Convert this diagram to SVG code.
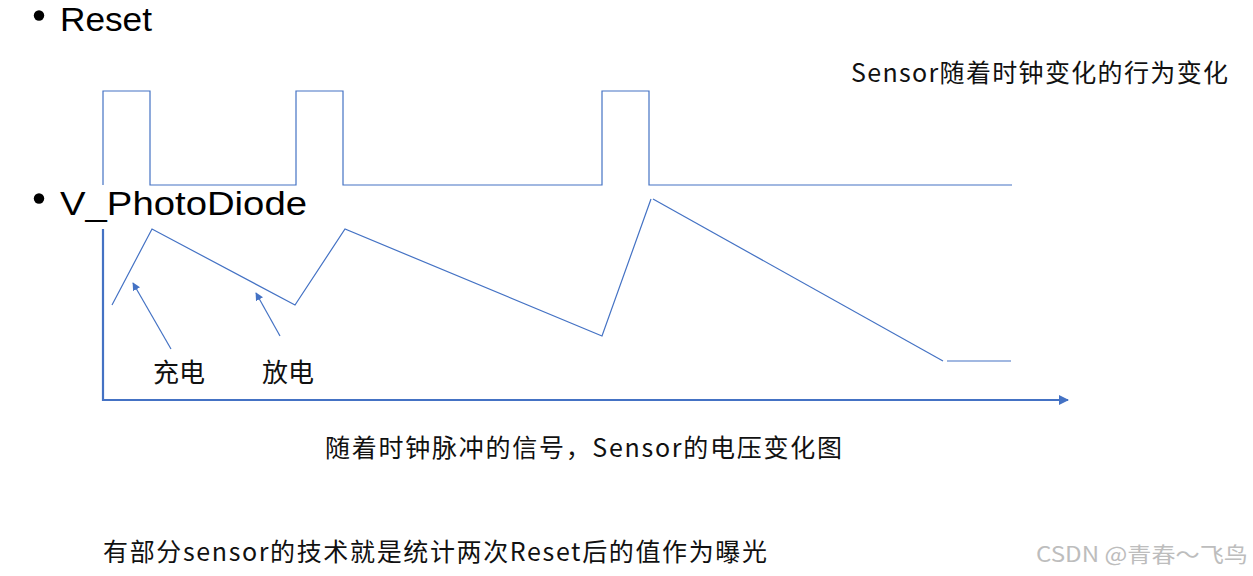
<svg xmlns="http://www.w3.org/2000/svg" width="1253" height="576" viewBox="0 0 1253 576">
<defs>
<style>
.wave{fill:none;stroke:#4472C4;stroke-width:1.2;stroke-linejoin:miter}
.axis{fill:none;stroke:#4472C4;stroke-width:2.2}
.ptr{fill:none;stroke:#4472C4;stroke-width:1.2}
.big{font-family:"Liberation Sans",Arial,sans-serif;font-size:34px;fill:#000}
.dot{fill:#000}
.cn{font-family:"Noto Sans CJK SC","Noto Sans",sans-serif;fill:#111}
.wm{font-family:"Noto Sans CJK SC","Noto Sans",sans-serif;font-size:21px;fill:#bdbdbd}
</style>
<marker id="tri" viewBox="0 0 10 10" refX="9" refY="5" markerWidth="8" markerHeight="8" markerUnits="userSpaceOnUse" orient="auto">
<path d="M0,0 L10,5 L0,10 z" fill="#4472C4"/>
</marker>
<marker id="axtri" viewBox="0 0 10 10" refX="9" refY="5" markerWidth="10" markerHeight="10" markerUnits="userSpaceOnUse" orient="auto">
<path d="M0,0 L10,5 L0,10 z" fill="#4472C4"/>
</marker>
</defs>
<rect width="1253" height="576" fill="#fff"/>
<g id="title-reset">
<circle class="dot" cx="39" cy="15.5" r="5.2"/>
<text class="big" x="60" y="31" textLength="92" lengthAdjust="spacingAndGlyphs">Reset</text>
</g>
<g id="title-vpd">
<circle class="dot" cx="39" cy="198.5" r="5.2"/>
<text class="big" x="60" y="215" textLength="247" lengthAdjust="spacingAndGlyphs">V_PhotoDiode</text>
</g>
<g id="caption-top">
<text class="cn" x="851" y="82" font-size="25" textLength="377">Sensor随着时钟变化的行为变化</text>
</g>
<g id="reset-wave">
<path class="wave" d="M103,185 V91 H150 V185 H296 V91 H343 V185 H602 V91 H649 V185 H1012"/>
</g>
<g id="pd-wave">
<path class="wave" d="M112,305 L152,229 L295,305 L345,229 L602,336 L651,199"/>
<path class="wave" d="M653,199 L943,361"/>
<path class="wave" d="M947,361 H1011"/>
</g>
<g id="connectors">
<path class="axis" d="M103,229 V400 H1068" marker-end="url(#axtri)"/>
<path class="ptr" d="M171,349 L133,283" marker-end="url(#tri)"/>
<path class="ptr" d="M280,336 L256,293" marker-end="url(#tri)"/>
</g>
<g id="label-charge">
<text class="cn" x="153" y="382" font-size="26">充电</text>
</g>
<g id="label-discharge">
<text class="cn" x="262" y="382" font-size="26">放电</text>
</g>
<g id="caption-mid">
<text class="cn" x="325" y="457" font-size="25" textLength="517">随着时钟脉冲的信号，Sensor的电压变化图</text>
</g>
<g id="caption-bottom">
<text class="cn" x="103" y="561" font-size="25" textLength="664">有部分sensor的技术就是统计两次Reset后的值作为曝光</text>
</g>
<g id="watermark">
<text class="wm" x="1036" y="562" textLength="212" lengthAdjust="spacingAndGlyphs">CSDN @青春～飞鸟</text>
</g>
</svg>
